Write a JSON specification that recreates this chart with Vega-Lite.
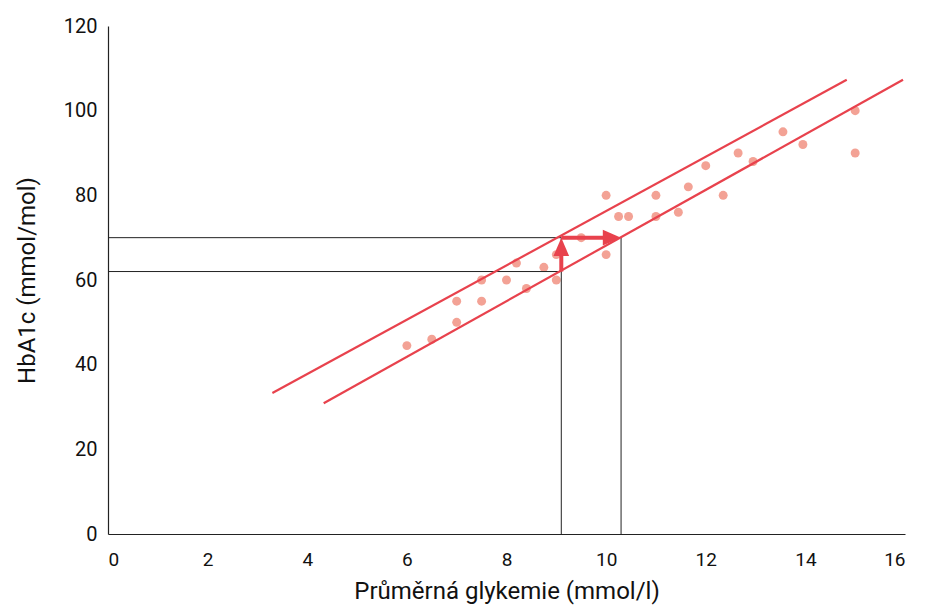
{
  "$schema": "https://vega.github.io/schema/vega-lite/v6.json",
  "width": 797,
  "height": 508,
  "padding": {"left": 15, "top": 16, "right": 22, "bottom": 5},
  "background": "white",
  "config": {"view": {"stroke": null}},
  "datasets": {
    "points": [
      {"g": 6.0, "h": 44.5}, {"g": 6.5, "h": 46}, {"g": 7.0, "h": 55}, {"g": 7.0, "h": 50},
      {"g": 7.5, "h": 60}, {"g": 7.5, "h": 55}, {"g": 8.0, "h": 60}, {"g": 8.2, "h": 64},
      {"g": 8.4, "h": 58}, {"g": 8.75, "h": 63}, {"g": 9.0, "h": 66}, {"g": 9.0, "h": 60},
      {"g": 9.5, "h": 70}, {"g": 10.0, "h": 80}, {"g": 10.0, "h": 66}, {"g": 10.25, "h": 75},
      {"g": 10.45, "h": 75}, {"g": 11.0, "h": 80}, {"g": 11.0, "h": 75}, {"g": 11.45, "h": 76},
      {"g": 11.65, "h": 82}, {"g": 12.0, "h": 87}, {"g": 12.35, "h": 80}, {"g": 12.65, "h": 90},
      {"g": 12.95, "h": 88}, {"g": 13.55, "h": 95}, {"g": 13.95, "h": 92}, {"g": 15.0, "h": 100},
      {"g": 15.0, "h": 90}
    ],
    "guides": [
      {"x1": 0, "y1": 70, "x2": 9.1, "y2": 70},
      {"x1": 0, "y1": 62, "x2": 9.1, "y2": 62},
      {"x1": 9.1, "y1": 0, "x2": 9.1, "y2": 70},
      {"x1": 10.3, "y1": 0, "x2": 10.3, "y2": 70}
    ],
    "bands": [
      {"x1": 3.3, "y1": 33.3, "x2": 14.83, "y2": 107.3},
      {"x1": 4.33, "y1": 30.9, "x2": 15.96, "y2": 107.3}
    ],
    "shafts": [
      {"x1": 9.1, "y1": 62, "x2": 9.1, "y2": 66.5},
      {"x1": 9.1, "y1": 70, "x2": 10.05, "y2": 70}
    ],
    "headsUp": [{"x": 9.1, "y": 70}],
    "headsRight": [{"x": 10.3, "y": 70}]
  },
  "encoding": {
    "x": {"type": "quantitative"},
    "y": {"type": "quantitative"}
  },
  "layer": [
    {
      "data": {"name": "points"},
      "mark": {"type": "circle", "size": 80, "color": "#f3a295", "opacity": 1},
      "encoding": {
        "x": {"field": "g", "type": "quantitative",
          "scale": {"domain": [0, 16], "nice": false},
          "axis": {"values": [0, 2, 4, 6, 8, 10, 12, 14, 16], "grid": false, "ticks": false,
            "domainColor": "#222", "domainWidth": 1.2,
            "labelFont": "Roboto", "labelFontSize": 19, "labelColor": "#111", "labelPadding": 16,
            "title": "Průměrná glykemie (mmol/l)", "titleFont": "Roboto", "titleFontSize": 24,
            "titleFontWeight": "normal", "titleColor": "#111", "titlePadding": 10}},
        "y": {"field": "h", "type": "quantitative",
          "scale": {"domain": [0, 120], "nice": false},
          "axis": {"values": [0, 20, 40, 60, 80, 100, 120], "grid": false, "ticks": false,
            "domainColor": "#222", "domainWidth": 1.2,
            "labelFont": "Roboto", "labelFontSize": 20, "labelColor": "#111", "labelPadding": 11,
            "title": "HbA1c (mmol/mol)", "titleFont": "Roboto", "titleFontSize": 24,
            "titleFontWeight": "normal", "titleColor": "#111", "titlePadding": 24}}
      }
    },
    {
      "data": {"name": "guides"},
      "mark": {"type": "rule", "color": "#222", "strokeWidth": 1},
      "encoding": {
        "x": {"field": "x1", "type": "quantitative"},
        "y": {"field": "y1", "type": "quantitative"},
        "x2": {"field": "x2"},
        "y2": {"field": "y2"}
      }
    },
    {
      "data": {"name": "bands"},
      "mark": {"type": "rule", "color": "#e8424d", "strokeWidth": 2.2},
      "encoding": {
        "x": {"field": "x1", "type": "quantitative"},
        "y": {"field": "y1", "type": "quantitative"},
        "x2": {"field": "x2"},
        "y2": {"field": "y2"}
      }
    },
    {
      "data": {"name": "shafts"},
      "mark": {"type": "rule", "color": "#e8424d", "strokeWidth": 4},
      "encoding": {
        "x": {"field": "x1", "type": "quantitative"},
        "y": {"field": "y1", "type": "quantitative"},
        "x2": {"field": "x2"},
        "y2": {"field": "y2"}
      }
    },
    {
      "data": {"name": "headsUp"},
      "mark": {"type": "point", "shape": "M0,0L-0.6,1.4L0.6,1.4Z", "filled": true, "size": 680, "color": "#e8424d", "opacity": 1},
      "encoding": {
        "x": {"field": "x", "type": "quantitative"},
        "y": {"field": "y", "type": "quantitative"}
      }
    },
    {
      "data": {"name": "headsRight"},
      "mark": {"type": "point", "shape": "M0,0L-1.4,-0.6L-1.4,0.6Z", "filled": true, "size": 680, "color": "#e8424d", "opacity": 1},
      "encoding": {
        "x": {"field": "x", "type": "quantitative"},
        "y": {"field": "y", "type": "quantitative"}
      }
    }
  ]
}
